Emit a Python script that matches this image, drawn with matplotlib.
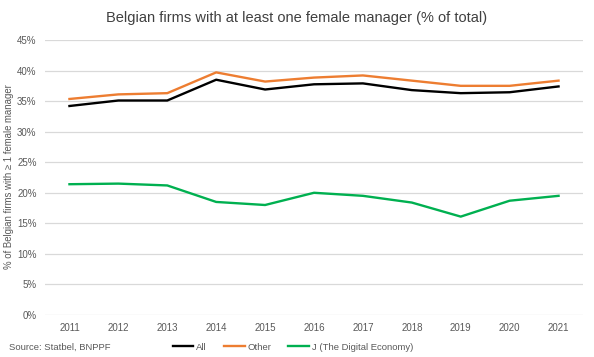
import matplotlib.pyplot as plt
from matplotlib.ticker import FuncFormatter

plt.rcParams['font.family'] = ['Liberation Sans', 'DejaVu Sans']

years = [2011, 2012, 2013, 2014, 2015, 2016, 2017, 2018, 2019, 2020, 2021]
all_firms = [34.2, 35.1, 35.1, 38.5, 36.9, 37.75, 37.9, 36.8, 36.3, 36.45, 37.4]
other = [35.35, 36.1, 36.3, 39.7, 38.2, 38.85, 39.2, 38.35, 37.5, 37.5, 38.35]
digital = [21.4, 21.5, 21.2, 18.5, 18.0, 20.0, 19.5, 18.4, 16.1, 18.7, 19.5]

text_col = '#595959'

fig = plt.figure(figsize=(5.94, 3.57), dpi=100)
ax = fig.add_axes([45 / 594, 1 - 315 / 357, 538 / 594, 275 / 357])

x = list(range(len(years)))
ax.plot(x, all_firms, color='black', lw=1.7, label='All')
ax.plot(x, other, color='#ED7D31', lw=1.7, label='Other')
ax.plot(x, digital, color='#00B050', lw=1.7, label='J (The Digital Economy)')

ax.set_xlim(-0.5, len(years) - 0.5)
ax.set_ylim(0, 45)
ax.set_yticks(range(0, 46, 5))
ax.yaxis.set_major_formatter(FuncFormatter(lambda v, p: f'{v:.0f}%'))
ax.set_xticks(x)
ax.set_xticklabels([str(y) for y in years])
ax.grid(axis='y', color='#D9D9D9', lw=0.9)
ax.set_axisbelow(True)
for s in ax.spines.values():
    s.set_visible(False)
ax.tick_params(length=0, labelsize=7, colors=text_col, pad=6)

fig.text(9 / 594, 1 - 177 / 357, '% of Belgian firms with \u2265 1 female manager',
         rotation=90, ha='center', va='center', fontsize=6.9, color=text_col)
fig.text(0.5, 1 - 18 / 357, 'Belgian firms with at least one female manager (% of total)',
         ha='center', va='center', fontsize=10.5, color='#404040')
fig.text(9 / 594, 1 - 347 / 357, 'Source: Statbel, BNPPF', ha='left', va='center',
         fontsize=6.8, color=text_col)

fig.legend(loc='center', bbox_to_anchor=(293 / 594, 1 - 347 / 357), ncol=3,
           frameon=False, fontsize=6.8, handlelength=2.2, handletextpad=0.3,
           columnspacing=1.8, labelcolor=text_col)

fig.savefig('out.png', dpi=100)
